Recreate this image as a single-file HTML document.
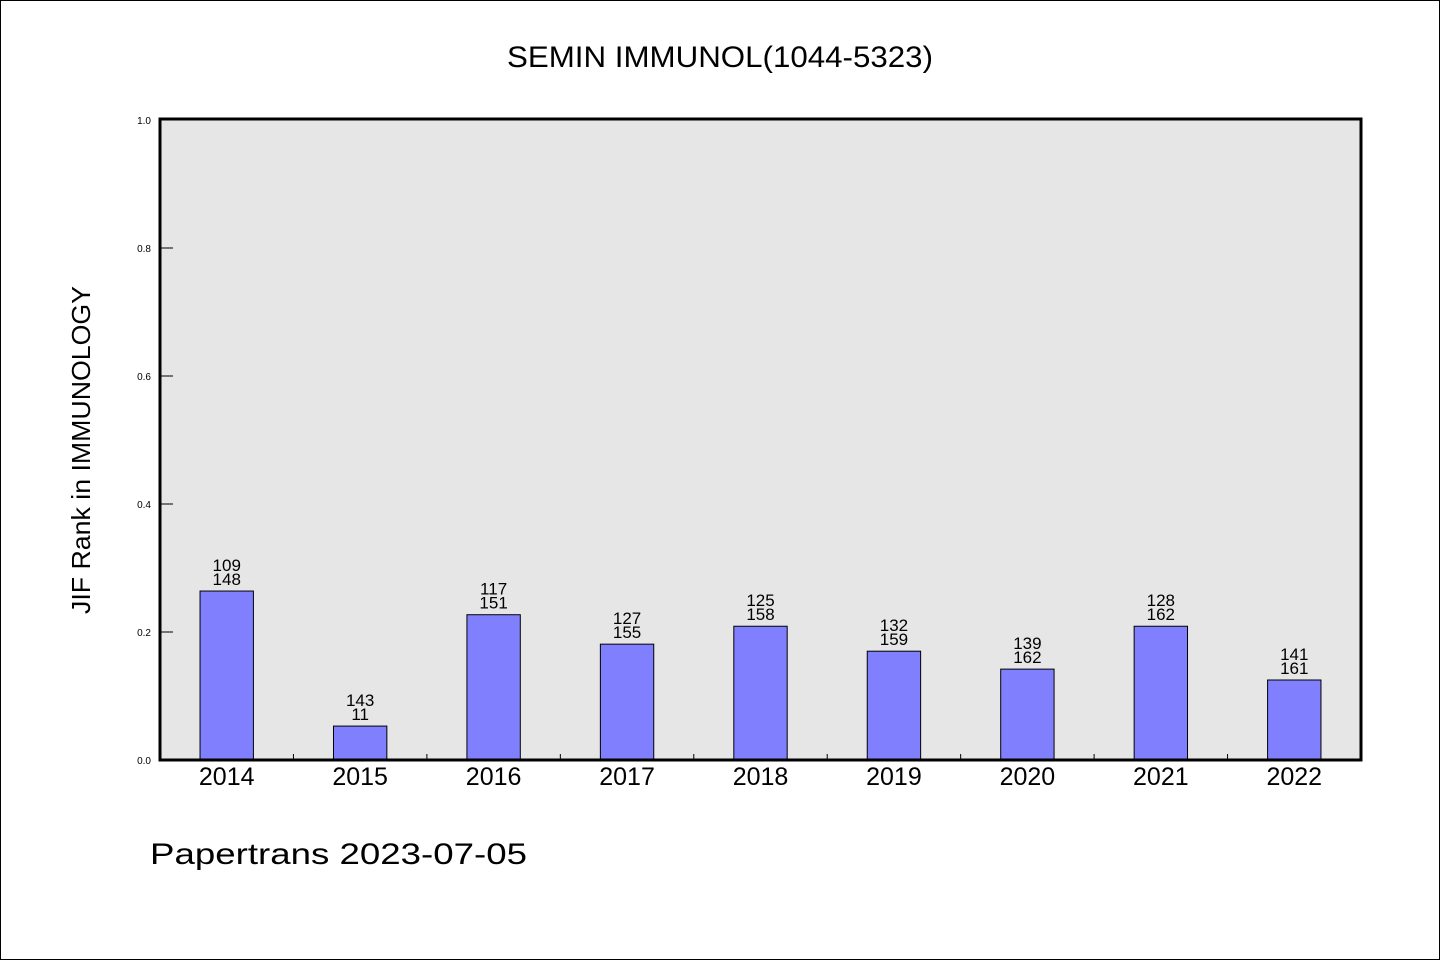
<!DOCTYPE html>
<html><head><meta charset="utf-8"><style>
html,body{margin:0;padding:0;background:#fff}
svg{display:block}
text{font-family:"Liberation Sans","WenQuanYi Zen Hei",sans-serif}
</style></head><body>
<svg id="c" width="1440" height="960" xmlns="http://www.w3.org/2000/svg">
<rect x="0.5" y="0.5" width="1439" height="959" fill="#fff" stroke="#000"/>
<text x="720" y="67" text-anchor="middle" font-size="30" textLength="426" lengthAdjust="spacingAndGlyphs">SEMIN IMMUNOL(1044-5323)</text>
<rect x="160" y="119" width="1201" height="641" fill="#e6e6e6"/>
<g id="bars"></g>
<g id="ticks"></g>
<rect x="160" y="119" width="1201" height="641" fill="none" stroke="#000" stroke-width="3"/>
<text transform="translate(90,450) rotate(-90)" text-anchor="middle" font-size="26" textLength="328" lengthAdjust="spacingAndGlyphs">JIF Rank in IMMUNOLOGY</text>
<text x="150" y="864" font-size="30" textLength="377" lengthAdjust="spacingAndGlyphs">Papertrans 2023-07-05</text>
</svg>
<script>
const categories = ["2014","2015","2016","2017","2018","2019","2020","2021","2022"];
const values = [0.264, 0.053, 0.227, 0.181, 0.209, 0.170, 0.142, 0.209, 0.125];
const ranks = ["109","143","117","127","125","132","139","128","141"];
const totals = ["148","11","151","155","158","159","162","162","161"];
const yTicks = [0, 0.2, 0.4, 0.6, 0.8, 1.0];
const yTickLabels = ["0.0","0.2","0.4","0.6","0.8","1.0"];

const X0=160, X1=1361, Y0=760, Y1=120;
const band=(X1-X0)/categories.length;
const xs=i=>X0+band*(i+0.5);
const ys=v=>Y0-(Y0-Y1)*v;
const NS="http://www.w3.org/2000/svg";
const bars=document.getElementById('bars'), ticks=document.getElementById('ticks');
function mk(tag,attrs,parent,txt){const e=document.createElementNS(NS,tag);for(const k in attrs)e.setAttribute(k,attrs[k]);if(txt!==undefined)e.textContent=txt;parent.appendChild(e);return e;}

categories.forEach((c,i)=>{
  const cx=xs(i), w=band*0.4, top=ys(values[i]);
  const r=mk('rect',{x:cx-w/2,y:top,width:w,height:Y0-top,fill:'#8080ff',stroke:'#000','stroke-width':1},bars);
  
  
  const t1=mk('text',{x:cx,y:top-20,'text-anchor':'middle','font-size':17},bars,ranks[i]);
  
  
  const t2=mk('text',{x:cx,y:top-6,'text-anchor':'middle','font-size':17},bars,totals[i]);
  
  
  const xl=mk('text',{x:cx,y:785,'text-anchor':'middle','font-size':25},ticks,c);
  
  
  if(i>0){
    const bx=X0+band*i;
    const tk=mk('line',{x1:bx,x2:bx,y1:Y0,y2:Y0-6,stroke:'#000'},ticks);
    
    
  }
});
yTicks.forEach((v,i)=>{
  const y=ys(v);
  const tk=mk('line',{x1:X0,x2:X0+13,y1:y,y2:y,stroke:'#000'},ticks);
  
  
  const tl=mk('text',{x:151,y:y+4,'text-anchor':'end','font-size':10},ticks,yTickLabels[i]);
  
  
});
</script>
</body></html>
